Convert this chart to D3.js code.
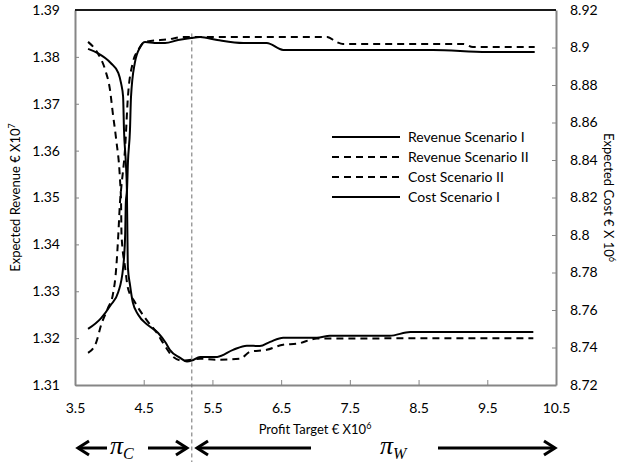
<!DOCTYPE html>
<html><head><meta charset="utf-8">
<script src="https://cdn.jsdelivr.net/npm/d3@7"></script>
<style>body{margin:0;background:#fff}svg{display:block}</style>
</head><body>
<svg id="c" width="621" height="462"></svg>
<script>
// ---------- data ----------
const xTicks = [3.5, 4.5, 5.5, 6.5, 7.5, 8.5, 9.5, 10.5];
const leftTicks = [1.31, 1.32, 1.33, 1.34, 1.35, 1.36, 1.37, 1.38, 1.39];
const rightTicks = [8.72, 8.74, 8.76, 8.78, 8.80, 8.82, 8.84, 8.86, 8.88, 8.90, 8.92];
const splitTarget = 5.2;

const revIX = [3.69, 3.83, 4.02, 4.13, 4.17, 4.20, 4.213, 4.24, 4.255, 4.262, 4.27, 4.30, 4.34, 4.42, 4.56, 4.71, 4.82, 4.88, 5.03, 5.13, 5.20, 5.32, 5.57, 5.80, 6.00, 6.19, 6.34, 6.53, 7.02, 7.21, 8.08, 8.38, 10.17];
const revIY = [1.3817, 1.3808, 1.3787, 1.3766, 1.3744, 1.3715, 1.3644, 1.3574, 1.3516, 1.3430, 1.3350, 1.3314, 1.3277, 1.3250, 1.3228, 1.3211, 1.3190, 1.3175, 1.3158, 1.3150, 1.3152, 1.3160, 1.3160, 1.3175, 1.3184, 1.3183, 1.3192, 1.3201, 1.3201, 1.3205, 1.3205, 1.3213, 1.3213];

const revIIX = [3.69, 3.83, 3.94, 4.01, 4.05, 4.10, 4.155, 4.17, 4.177, 4.23, 4.27, 4.37, 4.52, 4.71, 4.78, 4.93, 5.07, 5.32, 5.57, 5.90, 6.05, 6.29, 6.53, 6.73, 7.02, 10.17];
const revIIY = [1.3832, 1.3808, 1.3772, 1.3729, 1.3680, 1.3623, 1.3538, 1.3491, 1.3420, 1.3350, 1.3307, 1.3277, 1.3243, 1.3207, 1.3190, 1.3160, 1.3152, 1.3156, 1.3154, 1.3156, 1.3171, 1.3175, 1.3186, 1.3188, 1.3199, 1.3200];

const costIIX = [3.69, 3.81, 3.88, 3.98, 4.05, 4.10, 4.13, 4.155, 4.17, 4.23, 4.27, 4.34, 4.42, 4.52, 4.88, 5.07, 7.17, 7.31, 7.40, 9.15, 9.29, 10.19];
const costIIY = [8.7371, 8.7429, 8.7520, 8.7611, 8.7680, 8.7824, 8.8000, 8.8176, 8.8240, 8.8469, 8.8736, 8.8917, 8.8987, 8.9029, 8.9045, 8.9056, 8.9056, 8.9029, 8.9019, 8.9019, 8.9003, 8.9003];

const costIX = [3.69, 3.88, 4.02, 4.13, 4.20, 4.23, 4.24, 4.257, 4.27, 4.30, 4.315, 4.37, 4.45, 4.52, 4.66, 4.81, 5.00, 5.19, 5.32, 5.57, 5.95, 6.29, 6.53, 8.71, 9.50, 10.19];
const costIY = [8.7499, 8.7557, 8.7627, 8.7696, 8.7824, 8.8000, 8.8176, 8.8240, 8.8384, 8.8560, 8.8736, 8.8917, 8.9003, 8.9029, 8.9024, 8.9024, 8.9040, 8.9051, 8.9056, 8.9040, 8.9024, 8.9024, 8.8987, 8.8987, 8.8976, 8.8976];

const seriesNames = ["Revenue Scenario I", "Revenue Scenario II", "Cost Scenario II", "Cost Scenario I"];

// ---------- layout ----------
const W = 621, H = 462;
const m = {l: 75, r: 65, t: 10, b: 77};
const svg = d3.select("#c");
const font = "Lato, 'Liberation Sans', sans-serif";
const axisGray = "#868686";

const x = d3.scaleLinear().domain([3.5, 10.5]).range([m.l, W - m.r]);
const yL = d3.scaleLinear().domain([1.31, 1.39]).range([H - m.b, m.t]);
const yR = d3.scaleLinear().domain([8.72, 8.92]).range([H - m.b, m.t]);

// axes
const gx = svg.append("g").attr("transform", `translate(0,${H - m.b})`)
  .call(d3.axisBottom(x).tickValues(xTicks).tickSizeInner(-5).tickSizeOuter(0).tickPadding(18).tickFormat(d => d.toFixed(1)));
const gl = svg.append("g").attr("transform", `translate(${m.l},0)`)
  .call(d3.axisLeft(yL).tickValues(leftTicks).tickSizeInner(-4).tickSizeOuter(0).tickPadding(15).tickFormat(d => d.toFixed(2)));
const gr = svg.append("g").attr("transform", `translate(${W - m.r},0)`)
  .call(d3.axisRight(yR).tickValues(rightTicks).tickSizeInner(-4).tickSizeOuter(0).tickPadding(14).tickFormat(d => String(+d.toFixed(2))));
[gx, gl, gr].forEach(g => {
  g.select(".domain").attr("stroke", axisGray).attr("stroke-width", 2);
  g.selectAll(".tick line").attr("stroke", axisGray).attr("stroke-width", 1);
  g.selectAll(".tick text").attr("fill", "#000").attr("font-family", font).attr("font-size", 14);
});
// top border
svg.append("line").attr("x1", x(3.5)).attr("x2", x(10.5)).attr("y1", yL(1.39)).attr("y2", yL(1.39))
  .attr("stroke", "#1a1a1a").attr("stroke-width", 2);

// vertical split line
svg.append("line").attr("x1", x(splitTarget)).attr("x2", x(splitTarget)).attr("y1", yL(1.385)).attr("y2", H)
  .attr("stroke", "#6e6e6e").attr("stroke-width", 1).attr("stroke-dasharray", "4,3");

// series
const mk = (xs, ys) => xs.map((v, i) => [v, ys[i]]);
const lineL = d3.line().x(d => x(d[0])).y(d => yL(d[1])).curve(d3.curveMonotoneX);
const lineR = d3.line().x(d => x(d[0])).y(d => yR(d[1])).curve(d3.curveMonotoneX);
const series = [
  {data: mk(revIX, revIY), gen: lineL, dash: null},
  {data: mk(revIIX, revIIY), gen: lineL, dash: "7,5"},
  {data: mk(costIIX, costIIY), gen: lineR, dash: "7,5"},
  {data: mk(costIX, costIY), gen: lineR, dash: null}
];
series.forEach(s => {
  svg.append("path").attr("d", s.gen(s.data)).attr("fill", "none").attr("stroke", "#000")
    .attr("stroke-width", 2).attr("stroke-dasharray", s.dash);
});

// legend
const lg = svg.append("g");
seriesNames.forEach((n, i) => {
  const yy = 137 + i * 20;
  lg.append("line").attr("x1", 332).attr("x2", 400).attr("y1", yy).attr("y2", yy)
    .attr("stroke", "#000").attr("stroke-width", 2).attr("stroke-dasharray", series[i].dash);
  lg.append("text").attr("x", 408).attr("y", yy + 5).text(n)
    .attr("font-family", font).attr("font-size", 14).attr("fill", "#000");
});

// axis titles
const lt = svg.append("text").attr("transform", `translate(20,${(m.t + H - m.b) / 2}) rotate(-90)`)
  .attr("text-anchor", "middle").attr("font-family", font).attr("font-size", 13);
lt.append("tspan").text("Expected Revenue € X10");
lt.append("tspan").attr("dy", -5).attr("font-size", 9).text("7");

const rt = svg.append("text").attr("transform", `translate(604,${(m.t + H - m.b) / 2}) rotate(90)`)
  .attr("text-anchor", "middle").attr("font-family", font).attr("font-size", 13);
rt.append("tspan").text("Expected Cost € X 10");
rt.append("tspan").attr("dy", -5).attr("font-size", 9).text("6");

const xt = svg.append("text").attr("x", 315).attr("y", 434)
  .attr("text-anchor", "middle").attr("font-family", font).attr("font-size", 13);
xt.append("tspan").text("Profit Target € X10");
xt.append("tspan").attr("dy", -5).attr("font-size", 9).text("6");

// bottom arrows
const ay = 448;
function arrow(x1, x2, dir) {
  svg.append("line").attr("x1", x1).attr("x2", x2).attr("y1", ay).attr("y2", ay)
    .attr("stroke", "#000").attr("stroke-width", 3);
  const tip = dir > 0 ? x2 : x1;
  svg.append("path").attr("d", `M${tip - dir * 11},${ay - 7} L${tip},${ay} L${tip - dir * 11},${ay + 7}`)
    .attr("fill", "none").attr("stroke", "#000").attr("stroke-width", 3).attr("stroke-linejoin", "miter");
}
arrow(78, 107, -1);
arrow(148, 187, 1);
arrow(197, 311, -1);
arrow(438, 555, 1);

function piLabel(px, sub) {
  const t = svg.append("text").attr("x", px).attr("y", 454)
    .attr("font-family", "'Liberation Serif', 'DejaVu Serif', serif").attr("font-style", "italic").attr("font-size", 26);
  t.append("tspan").text("π");
  t.append("tspan").attr("dy", 5).attr("font-size", 16).text(sub);
}
piLabel(110, "C");
piLabel(380, "W");
</script>
</body></html>
